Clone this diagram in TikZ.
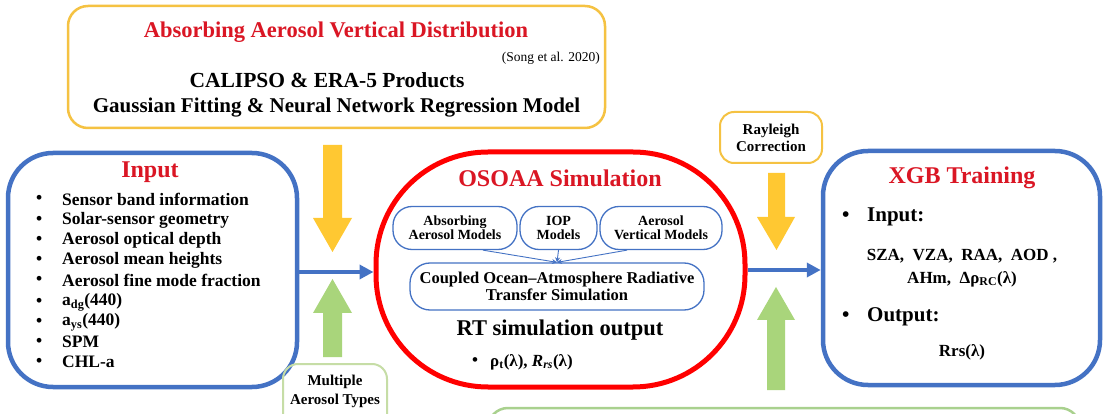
\documentclass[tikz,border=0pt]{standalone}
\usepackage{fontspec}
\setmainfont{Liberation Serif}
\usetikzlibrary{arrows.meta}
\definecolor{blueC}{HTML}{4472C4}
\definecolor{redC}{HTML}{FF0000}
\definecolor{titleRed}{RGB}{218,22,36}
\definecolor{yelB}{HTML}{F5C242}
\definecolor{yelF}{HTML}{FFC832}
\definecolor{greF}{HTML}{A9D57B}
\definecolor{greB}{HTML}{A9D18E}
\definecolor{greL}{HTML}{C6DDA6}
\newcommand{\fs}[1]{\fontsize{#1}{#1}\selectfont}
\tikzset{
  bigbox/.style={draw=blueC, line width=4.5pt, rounded corners=45pt, inner sep=0pt},
  smallbox/.style={draw=blueC, line width=1.3pt, rounded corners=19pt, align=center, inner sep=0pt, font=\fs{14}\bfseries},
  title/.style={text=titleRed, font=\fs{24}\bfseries, inner sep=0pt},
  txt/.style={inner sep=0pt, font=\fs{17.5}\bfseries},
  item/.style={txt, anchor=west},
  bluearrow/.style={draw=blueC, line width=3.5pt, -{Triangle[length=14pt,width=14pt]}},
  thinarrow/.style={draw=blueC, line width=0.9pt, -{Stealth[length=5pt,width=5pt]}},
  yarrow/.style={fill=yelF},
  garrow/.style={fill=greF},
}
\begin{document}
\begin{tikzpicture}[x=1pt,y=-1pt]
\useasboundingbox (0,0) rectangle (1104,414);
\clip (0,0) rectangle (1104,414);
\fill[white] (0,0) rectangle (1104,414);

% top yellow box
\node[draw=yelB, line width=2.5pt, rounded corners=20pt, minimum width=537pt, minimum height=122pt, inner sep=0pt] (avd) at (336.5,67) {};
\node[inner sep=0pt, text=titleRed, font=\fs{22.5}\bfseries] (avdt) at (336,32) {Absorbing Aerosol Vertical Distribution};
\node[inner sep=0pt, anchor=east, font=\fs{13.5}] (song) at (600,58) {(Song et al. 2020)};
\node[inner sep=0pt, font=\fs{21.5}\bfseries] (cal) at (327,80) {CALIPSO \& ERA-5 Products};
\node[inner sep=0pt, font=\fs{21}\bfseries] (gau) at (336.5,108) {Gaussian Fitting \& Neural Network Regression Model};

% input box
\node[bigbox, minimum width=289pt, minimum height=234pt] (input) at (152.5,270) {};
\node[title] (inputt) at (150,172) {Input};
\foreach \y/\t [count=\i] in {199/Sensor band information, 220/Solar-sensor geometry, 240/Aerosol optical depth, 260/Aerosol mean heights, 280/Aerosol fine mode fraction, 302/a\textsubscript{dg}(440), 322/a\textsubscript{ys}(440), 342/SPM, 362/CHL-a}{
  \node[item] (b\i) at (36,\y) {•};
  \node[item] (l\i) at (62,\y) {\t};
}

% left arrows
\path[yarrow] (323,145) -- (342,145) -- (342,218) -- (352,218) -- (332.5,252) -- (313,218) -- (323,218) -- cycle;
\path[garrow] (323,357) -- (342,357) -- (342,313) -- (352,313) -- (332.5,279) -- (313,313) -- (323,313) -- cycle;
\node[draw=greL, line width=2pt, rounded corners=15pt, minimum width=104pt, minimum height=70pt, inner sep=0pt] (mat) at (335,399) {};
\node[inner sep=0pt, align=center, font=\fs{15}\bfseries] (matt) at (335,391) {Multiple\\[4pt]Aerosol Types};

% OSOAA
\node[draw=redC, line width=5pt, rounded corners=112pt, minimum width=369pt, minimum height=235pt, inner sep=0pt] (osoaa) at (560.5,269.5) {};
\node[title] (osoaat) at (560,178) {OSOAA Simulation};
\node[smallbox, minimum width=124pt, minimum height=43pt] (abs) at (455,228) {Absorbing\\Aerosol Models};
\node[smallbox, minimum width=77pt, minimum height=43pt] (iop) at (558.5,228) {IOP\\Models};
\node[smallbox, minimum width=122pt, minimum height=43pt] (vert) at (661,228) {Aerosol\\Vertical Models};
\node[draw=blueC, line width=1.3pt, rounded corners=20pt, minimum width=294pt, minimum height=47pt, inner sep=0pt, align=center, font=\fs{16.5}\bfseries] (coupled) at (557,286.5) {Coupled Ocean\textendash Atmosphere Radiative\\[1pt]Transfer Simulation};
\draw[thinarrow] ([xshift=28pt]abs.south) -- (coupled.north);
\draw[thinarrow] (iop.south) -- (coupled.north);
\draw[thinarrow] ([xshift=-34pt]vert.south) -- (coupled.north);
\node[inner sep=0pt, font=\fs{22.5}\bfseries] (rt) at (560,330) {RT simulation output};
\node[item, font=\fs{17}\bfseries] (rb) at (472,362) {•};
\node[item, font=\fs{17}\bfseries] (rtxt) at (490,362) {ρ\textsubscript{t}(λ),\ \textit{R\textsubscript{rs}}(λ)};

% Rayleigh
\node[draw=yelB, line width=2pt, rounded corners=14pt, minimum width=102pt, minimum height=51pt, inner sep=0pt, align=center, font=\fs{15}\bfseries] (ray) at (771,137.5) {Rayleigh\\[2pt]Correction};
\path[yarrow] (768,173) -- (785,173) -- (785,217) -- (795,217) -- (776.5,250) -- (757,217) -- (768,217) -- cycle;
\path[garrow] (767,390) -- (785,390) -- (785,320) -- (795,320) -- (776,287) -- (757,320) -- (767,320) -- cycle;

% XGB
\node[bigbox, minimum width=277pt, minimum height=234pt] (xgb) at (961.5,268) {};
\node[title] (xgbt) at (962,178) {XGB Training};
\node[item, font=\fs{21}\bfseries] (xb1) at (842,217) {•};
\node[item, font=\fs{21}\bfseries] (xin) at (867,217) {Input:};
\node[txt, font=\fs{17}\bfseries] (xl1) at (962,256) {SZA,\ \ VZA,\ \ RAA,\ \ AOD\ ,};
\node[txt, font=\fs{17}\bfseries] (xl2) at (962,279) {AHm,\ \ Δρ\textsubscript{RC}(λ)};
\node[item, font=\fs{21}\bfseries] (xb2) at (842,317) {•};
\node[item, font=\fs{21}\bfseries] (xout) at (867,317) {Output:};
\node[txt, font=\fs{17}\bfseries] (xl3) at (962,352) {Rrs(λ)};

% connectors
\draw[bluearrow] ([yshift=-2pt]input.east) -- ([yshift=-2pt]input.east -| osoaa.west);
\draw[bluearrow] ([yshift=-0.5pt]osoaa.east) -- ([yshift=-0.5pt]osoaa.east -| xgb.west);

% bottom green box (cut)
\node[draw=greB, line width=2.5pt, rounded corners=20pt, minimum width=592pt, minimum height=60pt, inner sep=0pt] (bottom) at (784,438) {};
\end{tikzpicture}
\end{document}
